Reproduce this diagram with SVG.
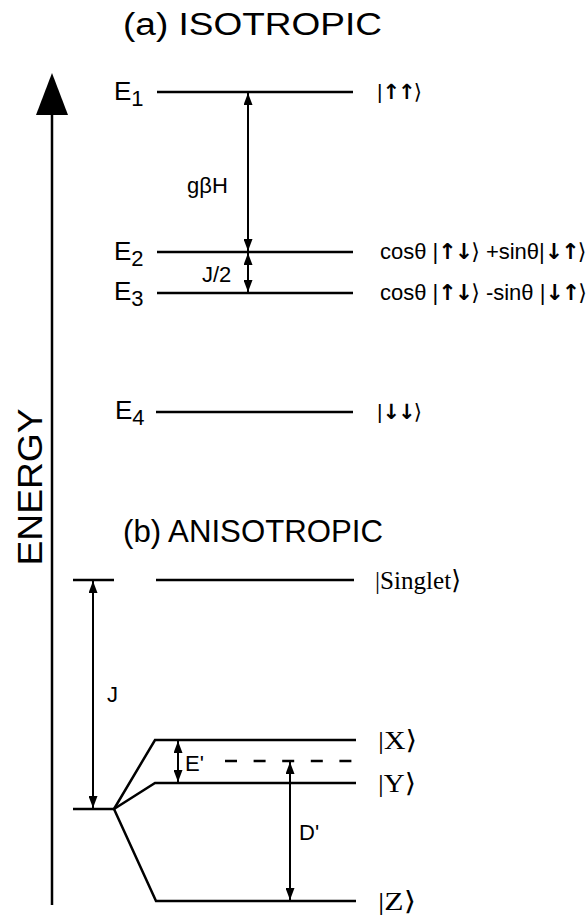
<svg xmlns="http://www.w3.org/2000/svg" width="588" height="918" viewBox="0 0 588 918">
<defs>
<marker id="ah" viewBox="0 0 12 9" refX="12" refY="4.5" markerWidth="12" markerHeight="9" markerUnits="userSpaceOnUse" orient="auto-start-reverse"><path d="M0,0 L12,4.5 L0,9 z" fill="#000"/></marker>
<style>
.lv{stroke:#000;stroke-width:2.5;fill:none}
.ar{stroke:#000;stroke-width:2;fill:none;marker-start:url(#ah);marker-end:url(#ah)}
.s{font-family:"Liberation Sans",Arial,"DejaVu Sans",sans-serif;fill:#000}
.r{font-family:"Liberation Serif","Times New Roman","DejaVu Serif",serif;fill:#000}
.t{font-size:31px}
.e{font-size:26px}
.sub{font-size:22px}
.k{font-size:21px}
.kc{font-size:22px}
.a{font-family:"DejaVu Sans",sans-serif;font-weight:bold;letter-spacing:-2px}
.l{font-size:22px}
.rk{font-size:26px}
</style>
</defs>
<rect width="588" height="918" fill="#fff"/>
<g id="axis">
<line class="lv" x1="52" y1="112" x2="52" y2="905"/>
<polygon points="52,73 36,115 68,115" fill="#000"/>
<text class="s" font-size="35" transform="rotate(-90)" x="-487" y="42" text-anchor="middle" textLength="157" lengthAdjust="spacingAndGlyphs">ENERGY</text>
</g>
<g id="title-a"><text class="s t" x="123" y="35" textLength="259" lengthAdjust="spacingAndGlyphs">(a) ISOTROPIC</text></g>
<g id="title-b"><text class="s t" x="123" y="542" textLength="260" lengthAdjust="spacingAndGlyphs">(b) ANISOTROPIC</text></g>
<g id="E1">
<line class="lv" x1="157" y1="92" x2="353" y2="92"/>
<text class="s e" x="114" y="100">E<tspan class="sub" dy="6">1</tspan></text>
<text class="s k" x="377" y="99">|<tspan class="a">↑↑</tspan>⟩</text>
</g>
<g id="E2">
<line class="lv" x1="157" y1="252" x2="353" y2="252"/>
<text class="s e" x="114" y="260">E<tspan class="sub" dy="6">2</tspan></text>
<text class="s kc" x="380" y="259">cosθ |<tspan class="a">↑↓</tspan>⟩ +sinθ|<tspan class="a">↓↑</tspan>⟩</text>
</g>
<g id="E3">
<line class="lv" x1="157" y1="293" x2="353" y2="293"/>
<text class="s e" x="114" y="300">E<tspan class="sub" dy="6">3</tspan></text>
<text class="s kc" x="380" y="300">cosθ |<tspan class="a">↑↓</tspan>⟩ -sinθ |<tspan class="a">↓↑</tspan>⟩</text>
</g>
<g id="E4">
<line class="lv" x1="156" y1="412" x2="353" y2="412"/>
<text class="s e" x="115" y="419">E<tspan class="sub" dy="6">4</tspan></text>
<text class="s k" x="377" y="419">|<tspan class="a">↓↓</tspan>⟩</text>
</g>
<g id="singlet">
<line class="lv" x1="73" y1="580" x2="114" y2="580"/>
<line class="lv" x1="156" y1="580" x2="354" y2="580"/>
<text class="r rk" x="375" y="589" textLength="86" lengthAdjust="spacingAndGlyphs">|Singlet⟩</text>
</g>
<g id="triplet-base">
<line class="lv" x1="73" y1="809" x2="114" y2="809"/>
</g>
<g id="X">
<polyline class="lv" points="114,809 155,740 356,740"/>
<text class="r rk" x="378" y="749" textLength="39" lengthAdjust="spacingAndGlyphs">|X⟩</text>
</g>
<g id="Y">
<polyline class="lv" points="114,809 155,783 356,783"/>
<text class="r rk" x="378" y="792" textLength="38" lengthAdjust="spacingAndGlyphs">|Y⟩</text>
</g>
<g id="Z">
<polyline class="lv" points="114,809 156,901 356,901"/>
<text class="r rk" x="378" y="910" textLength="38" lengthAdjust="spacingAndGlyphs">|Z⟩</text>
</g>
<g id="mid">
<line class="lv" x1="225" y1="761" x2="356" y2="761" stroke-dasharray="12,16.6"/>
</g>
<g id="connectors">
<line class="ar" x1="248" y1="93" x2="248" y2="251"/>
<line class="ar" x1="248" y1="253" x2="248" y2="292"/>
<line class="ar" x1="93" y1="581" x2="93" y2="808"/>
<line class="ar" x1="178" y1="741" x2="178" y2="782"/>
<line class="ar" x1="290" y1="762" x2="290" y2="900"/>
</g>
<g id="labels">
<text class="s l" x="187" y="193">gβH</text>
<text class="s l" x="202" y="282">J/2</text>
<text class="s l" x="107" y="702">J</text>
<text class="s l" x="185" y="771">E'</text>
<text class="s l" x="299" y="840">D'</text>
</g>
</svg>
